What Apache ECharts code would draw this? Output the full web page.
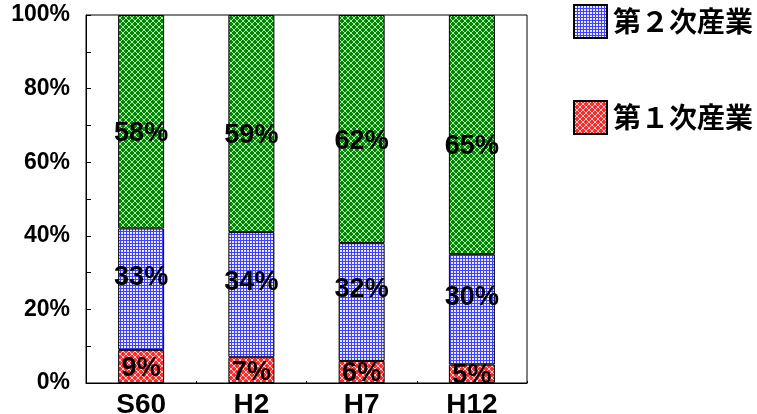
<!DOCTYPE html>
<html>
<head>
<meta charset="utf-8">
<script src="https://cdn.jsdelivr.net/npm/echarts@6/dist/echarts.min.js"></script>
<style>
  html, body { margin: 0; padding: 0; background: #fff; }
  #chart { width: 757px; height: 414px; }
</style>
</head>
<body>
<div id="chart"></div>
<script>
// 年次
const categories = ['S60', 'H2', 'H7', 'H12'];
// 産業別構成比 (%)
const primaryShare = [9, 7, 6, 5];
const secondaryShare = [33, 34, 32, 30];
const tertiaryShare = [58, 59, 62, 65];
const yTicks = [0, 20, 40, 60, 80, 100];

// ハッチ模様のタイル
function makeTile(size, bg, draw) {
    const c = document.createElement('canvas');
    c.width = size; c.height = size;
    const ctx = c.getContext('2d');
    ctx.fillStyle = bg;
    ctx.fillRect(0, 0, size, size);
    draw(ctx, size);
    return { image: c, repeat: 'repeat' };
}

function lattice(color) {
    return (ctx, s) => {
        ctx.strokeStyle = color;
        ctx.lineWidth = 1;
        ctx.beginPath();
        ctx.moveTo(0, 0); ctx.lineTo(s, s);
        ctx.moveTo(s, 0); ctx.lineTo(0, s);
        ctx.stroke();
    };
}

const greenFill = makeTile(6, '#008800', lattice('rgba(220,255,220,0.8)'));
const redFill = makeTile(6, '#ff2a2a', lattice('rgba(255,235,235,0.85)'));
const blueFill = makeTile(3, '#e8e8ff', (ctx, s) => {
    ctx.fillStyle = '#4040ff';
    ctx.fillRect(0, 0, s, 1);
    ctx.fillRect(0, 0, 1, s);
});

const numFont = 'Liberation Sans, Arial, sans-serif';

const labelStyle = {
    show: true,
    position: 'inside',
    formatter: p => p.value + '%',
    color: '#000',
    fontSize: 27,
    fontWeight: 'bold',
    fontFamily: numFont
};

function makeSeries(name, data, fill, offsetY) {
    return {
        name: name,
        type: 'bar',
        stack: 'total',
        barWidth: 46,
        data: data,
        itemStyle: { color: fill, borderColor: '#000', borderWidth: 1 },
        label: Object.assign({}, labelStyle, { offset: [0, offsetY] }),
        emphasis: { disabled: true }
    };
}

const chart = echarts.init(document.getElementById('chart'), null, { renderer: 'canvas' });
chart.setOption({
    animation: false,
    backgroundColor: '#fff',
    grid: {
        left: 86, top: 15, right: 230, bottom: 31,
        outerBoundsMode: 'none',
        show: true, borderColor: '#000', borderWidth: 1
    },
    legend: {
        data: ['第２次産業', '第１次産業'],
        orient: 'vertical',
        left: 573,
        top: 4,
        padding: 0,
        itemWidth: 33,
        itemHeight: 33,
        itemGap: 61,
        icon: 'rect',
        selectedMode: false,
        textStyle: { fontSize: 28, fontWeight: 'bold', color: '#000', fontFamily: 'Noto Sans CJK JP', padding: [0, 0, 0, 1] }
    },
    xAxis: {
        type: 'category',
        data: categories,
        axisLine: { lineStyle: { color: '#000' } },
        axisTick: { show: true, inside: true, length: 2, lineStyle: { color: '#000' } },
        axisLabel: { color: '#000', fontSize: 28, fontWeight: 'bold', margin: 8, fontFamily: numFont }
    },
    yAxis: {
        type: 'value',
        min: yTicks[0],
        max: yTicks[yTicks.length - 1],
        interval: 20,
        axisLine: { show: true, lineStyle: { color: '#000' } },
        axisTick: { show: true, inside: true, length: 5, lineStyle: { color: '#000' } },
        minorTick: { show: true, splitNumber: 2, length: 5, lineStyle: { color: '#000' } },
        splitLine: { show: false },
        axisLabel: { color: '#000', fontSize: 23, fontWeight: 'bold', margin: 16, formatter: '{value}%', fontFamily: numFont }
    },
    series: [
        makeSeries('第１次産業', primaryShare, redFill, 2),
        makeSeries('第２次産業', secondaryShare, blueFill, -12),
        makeSeries('第３次産業', tertiaryShare, greenFill, 12)
    ]
});
</script>
</body>
</html>
